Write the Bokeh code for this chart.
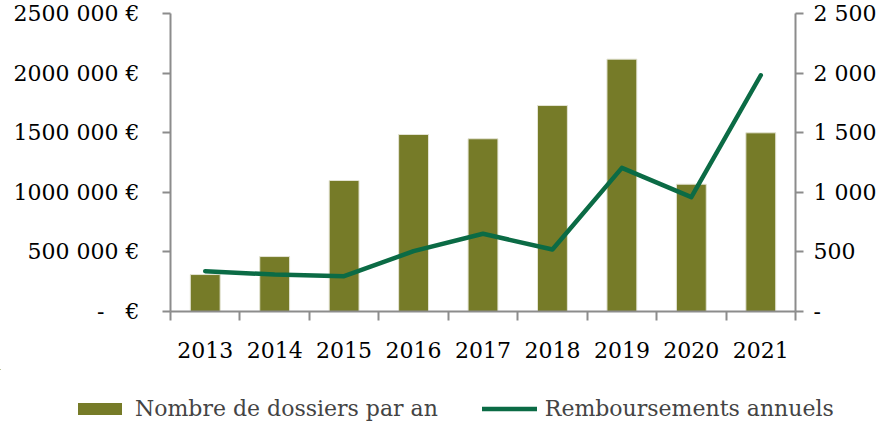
from bokeh.plotting import figure
from bokeh.models import (Range1d, LinearAxis, FixedTicker, Legend, LegendItem,
                          ColumnDataSource)
from bokeh.layouts import column
from bokeh.embed import file_html
from bokeh.resources import INLINE

years = ["2013", "2014", "2015", "2016", "2017", "2018", "2019", "2020", "2021"]
dossiers = [310, 461, 1099, 1485, 1449, 1728, 2117, 1068, 1499]
remboursements = [338000, 310000, 296000, 506000, 652000, 520000, 1205000, 959000, 1982000]

left_ticks = [0, 500000, 1000000, 1500000, 2000000, 2500000]
left_labels = ["-\u00a0\u00a0\u00a0€", "500 000 €", "1000 000 €", "1500 000 €", "2000 000 €", "2500 000 €"]
right_ticks = [0, 500, 1000, 1500, 2000, 2500]
right_labels = ["-", "500", "1 000", "1 500", "2 000", "2 500"]
series_names = ["Nombre de dossiers par an", "Remboursements annuels"]

BAR = "#767B28"
LINE = "#0B6B45"
AXIS = "#8C8C8C"
FONT = "DejaVu Serif"
FS = "22px"

n = len(years)
xc = [i + 0.5 for i in range(n)]
src = ColumnDataSource(dict(x=xc, year=years, dossiers=dossiers, remb=remboursements))

p = figure(width=879, height=369, x_range=Range1d(0, n), y_range=Range1d(0, 2500000),
           output_backend="svg", toolbar_location=None,
           min_border_left=170, min_border_right=82, min_border_top=13, min_border_bottom=58,
           x_axis_location=None, y_axis_location=None)
p.frame_align = False
p.extra_y_ranges = {"count": Range1d(0, 2500)}
p.xgrid.visible = False
p.ygrid.visible = False
p.outline_line_color = None

bars = p.vbar(x="x", top="dossiers", width=0.43, source=src, y_range_name="count",
              fill_color=BAR, line_color="#E4E4D4", line_width=1)
ln = p.line(x="x", y="remb", source=src, line_color=LINE, line_width=4.5,
            line_cap="round", line_join="round")

def style(ax):
    ax.axis_line_color = AXIS
    ax.axis_line_width = 2
    ax.major_tick_line_color = AXIS
    ax.major_tick_line_width = 2
    ax.minor_tick_line_color = AXIS
    ax.minor_tick_line_width = 2
    ax.major_label_text_font = FONT
    ax.major_label_text_font_size = FS
    ax.major_label_text_color = "black"

xaxis = LinearAxis(ticker=FixedTicker(ticks=xc, minor_ticks=list(range(n + 1))),
                   major_label_overrides={x: y for x, y in zip(xc, years)})
style(xaxis)
xaxis.major_tick_out = 0
xaxis.major_tick_in = 0
xaxis.minor_tick_out = 9
xaxis.minor_tick_in = 0
xaxis.major_label_standoff = 21
p.add_layout(xaxis, "below")

laxis = LinearAxis(ticker=FixedTicker(ticks=left_ticks),
                   major_label_overrides={t: l for t, l in zip(left_ticks, left_labels)})
style(laxis)
laxis.major_tick_out = 8
laxis.major_tick_in = 0
laxis.minor_tick_out = 0
laxis.major_label_standoff = 23
p.add_layout(laxis, "left")

raxis = LinearAxis(y_range_name="count", ticker=FixedTicker(ticks=right_ticks),
                   major_label_overrides={t: l for t, l in zip(right_ticks, right_labels)})
style(raxis)
raxis.major_tick_out = 8
raxis.major_tick_in = 0
raxis.minor_tick_out = 0
raxis.major_label_standoff = 10
p.add_layout(raxis, "right")

# legend strip below the chart (its renderers sit outside its visible ranges)
q = figure(width=879, height=52, x_range=Range1d(1000, 1001), y_range=Range1d(-1e9, -1e9 + 1),
           output_backend="svg", toolbar_location=None,
           min_border_left=0, min_border_right=0, min_border_top=0, min_border_bottom=0,
           x_axis_location=None, y_axis_location=None)
q.frame_align = False
q.xgrid.visible = False
q.ygrid.visible = False
q.outline_line_color = None
lb = q.vbar(x="x", top="dossiers", width=0.0, source=src, fill_color=BAR, line_color=None)
ll = q.line(x="x", y="remb", source=src, line_color=LINE, line_width=4.5, line_cap="round")
legend = Legend(items=[LegendItem(label=series_names[0], renderers=[lb]),
                       LegendItem(label=series_names[1], renderers=[ll])],
                orientation="horizontal", location=(72, 0),
                label_text_font=FONT, label_text_font_size=FS,
                glyph_width=55, glyph_height=15, label_standoff=8, spacing=44,
                border_line_color=None, background_fill_alpha=0,
                padding=0, margin=0)
q.add_layout(legend, "center")

layout = column(p, q, spacing=0)
open("out.html", "w").write(file_html(layout, INLINE))
